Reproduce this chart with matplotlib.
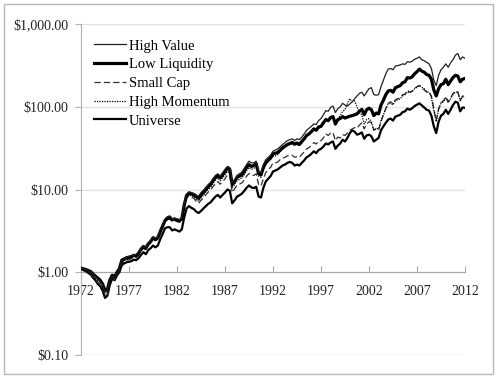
import numpy as np
import matplotlib
matplotlib.use("Agg")
import matplotlib.pyplot as plt
from matplotlib.ticker import NullLocator, FixedLocator, FixedFormatter
from matplotlib.patches import Rectangle

# quarterly observations, 1972.00 ... 2012.00
t = np.arange(1972.0, 2012.001, 0.25)

high_value = [
    1.12, 1.10, 1.07, 1.04,  1.00, 0.93, 0.88, 0.83,  0.78, 0.70, 0.58, 0.60,
    0.78, 0.90, 0.86, 0.98,  1.08, 1.38, 1.45, 1.50,  1.55, 1.58, 1.62, 1.65,
    1.75, 1.95, 2.10, 2.00,  2.25, 2.45, 2.70, 2.60,  2.70, 3.20, 3.80, 4.40,
    4.70, 4.80, 4.40, 4.50,  4.40, 4.30, 4.60, 6.80,  8.80, 9.40, 9.20, 9.00,
    8.60, 8.30, 9.20, 9.80,  10.6, 11.5, 12.2, 13.5,  14.8, 15.5, 14.5, 16.0,
    17.5, 19.0, 18.5, 12.0,  13.0, 14.8, 15.5, 16.2,  18.0, 20.0, 22.0, 21.0,
    21.0, 22.0, 16.5, 16.0,  20.0, 23.0, 24.5, 26.0,  29.0, 30.0, 31.0, 33.0,
    35.0, 37.0, 39.0, 40.0,  41.0, 39.0, 41.0, 40.0,  43.0, 47.0, 52.0, 55.0,
    58.0, 62.0, 61.0, 68.0,  72.0, 80.0, 90.0, 88.0,  98.0, 102.0, 85.0, 95.0,
    100.0, 110.0, 105.0, 102.0,  108.0, 115.0, 125.0, 135.0,  145.0, 150.0, 135.0, 150.0,
    165.0, 170.0, 140.0, 138.0,  140.0, 175.0, 210.0, 250.0,  285.0, 290.0, 280.0, 310.0,
    315.0, 320.0, 330.0, 325.0,  350.0, 345.0, 355.0, 375.0,  385.0, 400.0, 370.0, 360.0,
    345.0, 330.0, 290.0, 210.0,  180.0, 240.0, 280.0, 300.0,  330.0, 300.0, 340.0, 370.0,
    420.0, 440.0, 370.0, 400.0,  385.0]

low_liquidity = [
    1.12, 1.10, 1.08, 1.05,  1.02, 0.95, 0.90, 0.85,  0.80, 0.72, 0.60, 0.62,
    0.80, 0.92, 0.88, 1.00,  1.10, 1.40, 1.45, 1.50,  1.52, 1.55, 1.60, 1.58,
    1.70, 1.90, 2.05, 1.95,  2.20, 2.35, 2.60, 2.50,  2.60, 3.10, 3.60, 4.20,
    4.50, 4.60, 4.30, 4.40,  4.30, 4.20, 4.40, 6.50,  8.50, 9.00, 8.80, 8.60,
    8.20, 7.80, 8.60, 9.20,  10.0, 10.8, 11.5, 12.8,  14.0, 14.8, 13.8, 15.0,
    16.5, 18.0, 17.5, 11.5,  12.5, 14.0, 14.5, 15.0,  16.5, 18.5, 20.0, 19.0,
    19.5, 20.5, 15.5, 15.0,  18.5, 21.0, 22.5, 24.0,  27.0, 27.5, 28.0, 30.0,
    32.0, 33.5, 35.0, 36.0,  37.0, 35.5, 36.5, 35.0,  38.0, 41.0, 45.0, 47.0,
    50.0, 54.0, 52.0, 57.0,  58.0, 64.0, 70.0, 68.0,  74.0, 76.0, 62.0, 70.0,
    72.0, 76.0, 73.0, 75.0,  77.0, 78.0, 80.0, 82.0,  88.0, 93.0, 80.0, 92.0,
    96.0, 92.0, 78.0, 84.0,  82.0, 105.0, 120.0, 140.0,  155.0, 158.0, 150.0, 170.0,
    175.0, 180.0, 195.0, 200.0,  225.0, 222.0, 230.0, 250.0,  265.0, 285.0, 270.0, 262.0,
    245.0, 240.0, 215.0, 160.0,  135.0, 165.0, 185.0, 190.0,  215.0, 185.0, 205.0, 225.0,
    240.0, 235.0, 200.0, 215.0,  220.0]

small_cap = [
    1.10, 1.07, 1.04, 1.00,  0.96, 0.88, 0.82, 0.76,  0.72, 0.64, 0.52, 0.54,
    0.72, 0.86, 0.82, 0.94,  1.02, 1.28, 1.35, 1.40,  1.42, 1.46, 1.52, 1.50,
    1.60, 1.80, 1.95, 1.85,  2.10, 2.25, 2.50, 2.40,  2.50, 2.95, 3.45, 4.10,
    4.30, 4.40, 4.10, 4.20,  4.10, 4.00, 4.20, 6.00,  7.90, 8.40, 8.10, 7.80,
    7.20, 6.80, 7.40, 7.90,  8.60, 9.30, 9.80, 10.8,  11.8, 12.5, 11.6, 12.4,
    13.5, 15.0, 14.5, 9.2,   10.2, 11.3, 11.6, 12.0,  13.0, 14.5, 15.6, 14.8,
    14.8, 15.5, 11.5, 11.0,  13.5, 16.0, 17.5, 18.5,  21.0, 21.0, 21.5, 23.0,
    24.0, 24.5, 25.5, 26.0,  26.0, 24.5, 25.0, 24.5,  26.5, 28.5, 31.0, 32.0,
    34.0, 37.0, 35.5, 38.0,  39.0, 42.0, 47.0, 45.0,  48.0, 49.0, 39.0, 43.0,
    42.0, 46.0, 45.0, 48.0,  52.0, 54.0, 56.0, 55.0,  60.0, 64.0, 54.0, 62.0,
    66.0, 64.0, 52.0, 54.0,  52.0, 66.0, 80.0, 95.0,  110.0, 115.0, 108.0, 122.0,
    125.0, 128.0, 140.0, 142.0,  158.0, 150.0, 155.0, 168.0,  175.0, 180.0, 168.0, 160.0,
    150.0, 152.0, 135.0, 95.0,  68.0, 95.0, 112.0, 118.0,  132.0, 115.0, 128.0, 145.0,
    155.0, 152.0, 120.0, 135.0,  135.0]

high_momentum = [
    1.10, 1.08, 1.06, 1.02,  0.98, 0.92, 0.86, 0.80,  0.76, 0.68, 0.56, 0.58,
    0.76, 0.88, 0.85, 0.96,  1.05, 1.30, 1.38, 1.42,  1.45, 1.48, 1.55, 1.55,
    1.65, 1.85, 2.00, 1.90,  2.15, 2.30, 2.55, 2.45,  2.55, 3.00, 3.50, 4.20,
    4.40, 4.50, 4.20, 4.30,  4.20, 4.10, 4.30, 6.30,  8.20, 8.70, 8.40, 8.20,
    7.60, 7.20, 7.90, 8.50,  9.30, 10.0, 10.6, 11.8,  13.0, 13.8, 12.8, 13.8,
    15.0, 16.5, 16.0, 10.5,  11.5, 12.8, 13.2, 13.8,  15.0, 17.0, 18.5, 17.5,
    18.0, 19.0, 14.5, 14.0,  17.5, 20.5, 22.0, 23.5,  25.0, 25.5, 26.5, 28.5,
    30.5, 32.0, 34.0, 35.0,  35.5, 34.0, 35.0, 34.0,  37.0, 40.0, 44.0, 46.0,
    49.0, 53.0, 51.0, 55.0,  57.0, 62.0, 68.0, 66.0,  72.0, 75.0, 60.0, 70.0,
    78.0, 88.0, 92.0, 110.0,  125.0, 115.0, 118.0, 100.0,  85.0, 80.0, 62.0, 70.0,
    72.0, 66.0, 52.0, 55.0,  54.0, 68.0, 80.0, 95.0,  108.0, 110.0, 105.0, 118.0,
    122.0, 125.0, 135.0, 140.0,  152.0, 148.0, 152.0, 165.0,  172.0, 182.0, 172.0, 165.0,
    152.0, 150.0, 130.0, 90.0,  66.0, 92.0, 110.0, 115.0,  128.0, 112.0, 125.0, 140.0,
    150.0, 150.0, 118.0, 132.0,  130.0]

universe = [
    1.10, 1.06, 1.03, 0.98,  0.94, 0.86, 0.80, 0.72,  0.68, 0.60, 0.49, 0.52,
    0.70, 0.84, 0.80, 0.92,  1.00, 1.22, 1.28, 1.32,  1.34, 1.36, 1.42, 1.40,
    1.48, 1.62, 1.75, 1.65,  1.85, 1.95, 2.10, 2.00,  2.10, 2.50, 2.90, 3.40,
    3.50, 3.50, 3.20, 3.30,  3.20, 3.10, 3.30, 4.60,  5.90, 6.30, 6.00, 5.80,
    5.40, 5.20, 5.50, 5.90,  6.30, 6.70, 7.00, 7.60,  8.20, 8.60, 8.00, 8.60,
    9.20, 10.0, 9.70, 6.80,  7.40, 8.20, 8.50, 8.90,  9.60, 10.5, 11.2, 10.6,
    10.4, 10.8, 8.20, 8.00,  10.5, 12.5, 13.5, 14.5,  16.5, 17.0, 17.5, 18.5,
    19.5, 20.0, 21.0, 21.5,  21.0, 19.5, 20.0, 19.5,  21.0, 22.5, 24.5, 25.5,
    27.0, 29.0, 27.5, 30.0,  31.0, 33.0, 36.0, 35.0,  37.0, 38.0, 31.0, 34.0,
    36.0, 40.0, 38.0, 42.0,  48.0, 52.0, 50.0, 46.0,  47.0, 49.0, 41.0, 45.0,
    46.0, 44.0, 38.0, 40.0,  42.0, 52.0, 58.0, 64.0,  70.0, 72.0, 68.0, 76.0,
    78.0, 80.0, 86.0, 88.0,  95.0, 92.0, 96.0, 102.0,  106.0, 110.0, 104.0, 98.0,
    92.0, 90.0, 78.0, 58.0,  48.0, 66.0, 78.0, 82.0,  92.0, 82.0, 92.0, 105.0,
    115.0, 112.0, 88.0, 98.0,  97.0]

x_ticks = [1972, 1977, 1982, 1987, 1992, 1997, 2002, 2007, 2012]
y_ticks = [0.1, 1, 10, 100, 1000]
y_labels = ["$0.10", "$1.00", "$10.00", "$100.00", "$1,000.00"]

plt.rcParams['font.family'] = ['Liberation Serif', 'DejaVu Serif']

fig = plt.figure(figsize=(5.0, 3.79), dpi=100)
fig.patches.append(Rectangle((4/500, 1-374/379), 489/500, 370/379,
                             transform=fig.transFigure, fill=False,
                             edgecolor='#b8b8b8', lw=1.0))
ax = fig.add_axes([81/500, 1-355/379, (465-81)/500, (355-24)/379])

ax.plot(t, universe, color='black', lw=1.6, label='Universe', zorder=3)
ax.plot(t, small_cap, color='#303030', lw=0.9, ls=(0, (5, 2.5)), label='Small Cap', zorder=3)
ax.plot(t, high_momentum, color='black', lw=0.9, ls=(0, (1, 1)), label='High Momentum', zorder=3)
ax.plot(t, low_liquidity, color='black', lw=2.3, label='Low Liquidity', zorder=4)
ax.plot(t, high_value, color='#202020', lw=0.9, label='High Value', zorder=4)

ax.set_yscale('log')
ax.set_ylim(0.1, 1000)
ax.set_xlim(1972, 2012)
ax.yaxis.set_major_locator(FixedLocator(y_ticks))
ax.yaxis.set_major_formatter(FixedFormatter(y_labels))
ax.yaxis.set_minor_locator(NullLocator())
ax.set_xticks(x_ticks)
ax.set_xticklabels([str(v) for v in x_ticks])

for s in ['top', 'right']:
    ax.spines[s].set_visible(False)
ax.spines['bottom'].set_position(('data', 1))
ax.spines['bottom'].set_color('#a6a6a6')
ax.spines['left'].set_color('#b0b0b0')
ax.tick_params(axis='y', direction='out', length=4, width=0.8, color='#b0b0b0',
               labelsize=10, pad=5, labelcolor='#222222')
ax.tick_params(axis='x', direction='in', length=4, width=0.8, color='#a6a6a6',
               labelsize=10, pad=9, labelcolor='#222222')
ax.yaxis.grid(True, color='#e4e4e4', lw=1.0, zorder=0)
ax.set_axisbelow(True)

handles, labels = ax.get_legend_handles_labels()
order = ['High Value', 'Low Liquidity', 'Small Cap', 'High Momentum', 'Universe']
hmap = dict(zip(labels, handles))
leg = ax.legend([hmap[k] for k in order], order, loc='upper left',
                bbox_to_anchor=(0.012, 0.98), frameon=False, fontsize=10.5,
                handlelength=2.2, handletextpad=0.15, labelspacing=0.38,
                borderaxespad=0.2)

fig.savefig('out.png', dpi=100)
